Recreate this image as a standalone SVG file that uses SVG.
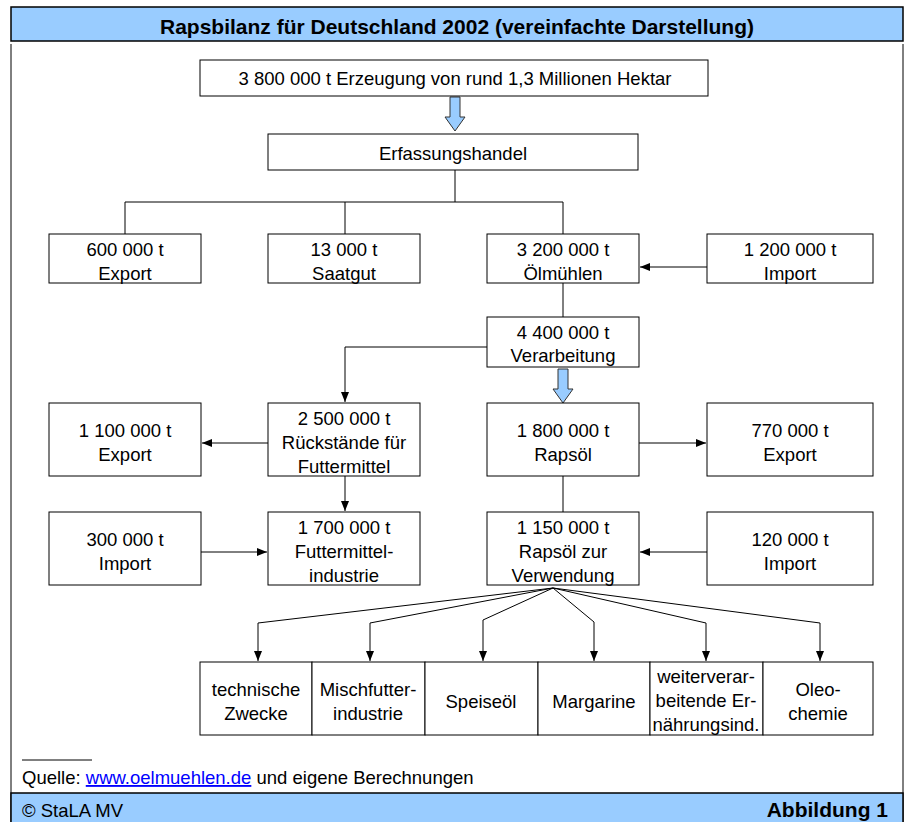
<svg xmlns="http://www.w3.org/2000/svg" width="907" height="822" viewBox="0 0 907 822">
<defs>
<marker id="ah" markerWidth="10" markerHeight="8" refX="10" refY="4" orient="auto" markerUnits="userSpaceOnUse">
<path d="M0,0 L10,4 L0,8 Z" fill="#000"/>
</marker>
<style>
text{font-family:"Liberation Sans",Arial,sans-serif;font-size:18.5px;fill:#000;text-anchor:middle}
.box{fill:#fff;stroke:#000;stroke-width:1}
.band{fill:#99ccff;stroke:#000;stroke-width:1.5}
.c{fill:none;stroke:#000;stroke-width:1}
.ar{marker-end:url(#ah)}
.blue{fill:#99ccff;stroke:#333;stroke-width:1}
.b{font-weight:bold;font-size:21px}
.l{text-anchor:start}
</style>
</defs>
<rect width="907" height="822" fill="#fff"/>
<g id="frame">
<rect class="band" x="11" y="7" width="892" height="34"/>
<text class="b" x="457" y="34">Rapsbilanz für Deutschland 2002 (vereinfachte Darstellung)</text>
<line class="c" x1="11" y1="44" x2="11" y2="822" stroke-width="1.5"/>
<line class="c" x1="903" y1="44" x2="903" y2="822" stroke-width="1.5"/>
<rect class="band" x="11" y="793" width="892" height="32"/>
<text class="l" x="22" y="817">© StaLA MV</text>
<text class="b" x="888" y="817" style="text-anchor:end">Abbildung 1</text>
<line class="c" x1="22" y1="760" x2="92" y2="760"/>
<text class="l" x="22" y="784">Quelle: <tspan fill="#0000ff" text-decoration="underline">www.oelmuehlen.de</tspan> und eigene Berechnungen</text>
</g>
<g id="connectors">
<path class="blue" d="M450,97 H460 V117 H465 L455,131 L445,117 H450 Z"/>
<path class="blue" d="M558,369 H568 V389 H573 L563,403 L553,389 H558 Z"/>
<path class="c" d="M455,170 V202 M125,234 V202 H563 V234 M345,202 V234"/>
<path class="c ar" d="M707,267 H640"/>
<path class="c" d="M563,283 V317"/>
<path class="c ar" d="M487,347 H345 V402"/>
<path class="c ar" d="M268,443 H202"/>
<path class="c ar" d="M639,443 H706"/>
<path class="c ar" d="M345,476 V511"/>
<path class="c" d="M563,476 V512"/>
<path class="c ar" d="M201,552 H267"/>
<path class="c ar" d="M707,552 H640"/>
<path class="c ar" d="M553,588 L258,623 V661"/>
<path class="c ar" d="M553,588 L370,623 V661"/>
<path class="c ar" d="M553,588 L483,620 V661"/>
<path class="c ar" d="M553,588 L594,622 V661"/>
<path class="c ar" d="M553,588 L706,623 V661"/>
<path class="c ar" d="M553,588 L820,623 V661"/>
</g>
<g id="n_erzeugung"><rect class="box" x="200" y="60" width="508" height="36"/><text x="455" y="85">3 800 000 t Erzeugung von rund 1,3 Millionen Hektar</text></g>
<g id="n_erfassung"><rect class="box" x="268" y="134" width="370" height="36"/><text x="453" y="160">Erfassungshandel</text></g>
<g id="n_export1"><rect class="box" x="49" y="234" width="152" height="49"/><text x="125" y="256">600 000 t</text><text x="125" y="280">Export</text></g>
<g id="n_saatgut"><rect class="box" x="268" y="234" width="152" height="49"/><text x="344" y="256">13 000 t</text><text x="344" y="280">Saatgut</text></g>
<g id="n_oelmuehlen"><rect class="box" x="487" y="234" width="152" height="49"/><text x="563" y="256">3 200 000 t</text><text x="563" y="280">Ölmühlen</text></g>
<g id="n_import1"><rect class="box" x="707" y="234" width="166" height="49"/><text x="790" y="256">1 200 000 t</text><text x="790" y="280">Import</text></g>
<g id="n_verarbeitung"><rect class="box" x="487" y="317" width="152" height="50"/><text x="563" y="339">4 400 000 t</text><text x="563" y="362">Verarbeitung</text></g>
<g id="n_export2"><rect class="box" x="49" y="403" width="152" height="73"/><text x="125" y="437">1 100 000 t</text><text x="125" y="461">Export</text></g>
<g id="n_rueckstaende"><rect class="box" x="268" y="403" width="152" height="73"/><text x="344" y="425">2 500 000 t</text><text x="344" y="449">Rückstände für</text><text x="344" y="473">Futtermittel</text></g>
<g id="n_rapsoel"><rect class="box" x="487" y="403" width="152" height="73"/><text x="563" y="437">1 800 000 t</text><text x="563" y="461">Rapsöl</text></g>
<g id="n_export3"><rect class="box" x="707" y="403" width="166" height="73"/><text x="790" y="437">770 000 t</text><text x="790" y="461">Export</text></g>
<g id="n_import2"><rect class="box" x="49" y="512" width="152" height="73"/><text x="125" y="546">300 000 t</text><text x="125" y="570">Import</text></g>
<g id="n_futterind"><rect class="box" x="268" y="512" width="152" height="73"/><text x="344" y="534">1 700 000 t</text><text x="344" y="558">Futtermittel-</text><text x="344" y="582">industrie</text></g>
<g id="n_verwendung"><rect class="box" x="487" y="512" width="152" height="73"/><text x="563" y="534">1 150 000 t</text><text x="563" y="558">Rapsöl zur</text><text x="563" y="582">Verwendung</text></g>
<g id="n_import3"><rect class="box" x="707" y="512" width="166" height="73"/><text x="790" y="546">120 000 t</text><text x="790" y="570">Import</text></g>
<g id="n_technisch"><rect class="box" x="200" y="662" width="112" height="73"/><text x="256" y="696">technische</text><text x="256" y="720">Zwecke</text></g>
<g id="n_mischfutter"><rect class="box" x="312" y="662" width="113" height="73"/><text x="368" y="696">Mischfutter-</text><text x="368" y="720">industrie</text></g>
<g id="n_speiseoel"><rect class="box" x="425" y="662" width="113" height="73"/><text x="481" y="708">Speiseöl</text></g>
<g id="n_margarine"><rect class="box" x="538" y="662" width="112" height="73"/><text x="594" y="708">Margarine</text></g>
<g id="n_weiter"><rect class="box" x="650" y="662" width="113" height="73"/><text x="706" y="683">weiterverar-</text><text x="706" y="707">beitende Er-</text><text x="706" y="731">nährungsind.</text></g>
<g id="n_oleo"><rect class="box" x="763" y="662" width="110" height="73"/><text x="818" y="696">Oleo-</text><text x="818" y="720">chemie</text></g>
</svg>
